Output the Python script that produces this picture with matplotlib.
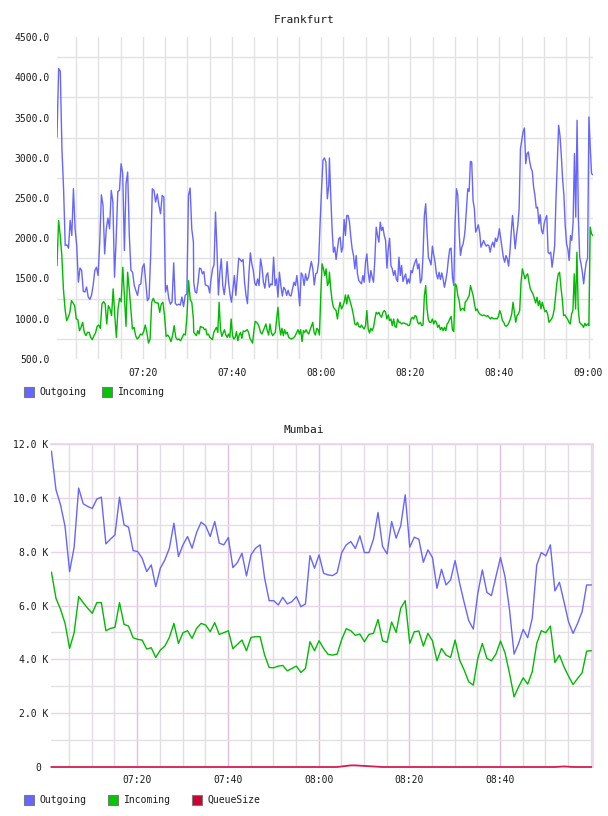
import numpy as np
import pandas as pd
import matplotlib
matplotlib.use("Agg")
import matplotlib.pyplot as plt
import matplotlib.dates as mdates
from matplotlib.patches import Rectangle

# ---------------- DATA ----------------
BASE = pd.Timestamp("2024-01-01 07:00:00")

# Frankfurt: four consecutive time segments (minutes after 07:00)
fra_seg_start_min = [0.72, 31.40, 61.85, 92.31]
fra_seg_end_min = [31.33, 61.71, 92.16, 120.97]

fra_out_1 = [3258, 4109, 4075, 3113, 2615, 1910, 1918, 1877, 2222, 2035,
             2615, 2118, 1910, 1454, 1630, 1600, 1340, 1333, 1395, 1270,
             1240, 1290, 1415, 1600, 1640, 1537, 1951, 2540, 2408, 1806,
             2118, 2250, 2118, 2595, 2450, 1516, 1993, 2582, 2595, 2926,
             2802, 1848, 2678, 2823, 2035, 1600, 1578, 1415, 1350, 1290,
             1420, 1433, 1640, 1682, 1454, 1225, 1257, 1790, 2615, 2595,
             2450, 2550, 2408, 2304, 2532, 2512, 1333, 1415, 1250, 1180,
             1210, 1694, 1190, 1170, 1180, 1170, 1270, 1150, 1290, 1311,
             2532, 2624, 2118, 1951]
fra_out_2 = [1454, 1333, 1320, 1454, 1630, 1620, 1558, 1587, 1420, 1412,
             1404, 1320, 1503, 1620, 1670, 2325, 1868, 1296, 1578, 1744,
             1412, 1300, 1454, 1711, 1454, 1300, 1205, 1370, 1537, 1290,
             1516, 1752, 1735, 1711, 1735, 1454, 1290, 1188, 1558, 1819,
             1682, 1600, 1446, 1412, 1495, 1412, 1744, 1640, 1454, 1379,
             1537, 1570, 1391, 1433, 1420, 1765, 1412, 1495, 1270, 1578,
             1412, 1283, 1391, 1362, 1290, 1354, 1290, 1283, 1370, 1454,
             1412, 1537, 1362, 1160, 1570, 1537, 1412, 1558, 1474, 1516,
             1620, 1711, 1620, 1420, 1558, 1570, 1703, 2180, 2595, 2968,
             2997, 2947, 2490, 2657]
fra_out_3 = [2997, 2532, 2118, 1827, 1889, 1736, 1869, 1993, 2014, 1827,
             1889, 2234, 2034, 2283, 2283, 2200, 2014, 1869, 1786, 1620,
             1786, 1557, 1474, 1454, 1433, 1537, 1454, 1703, 1806, 1578,
             1454, 1599, 1516, 1454, 1744, 2138, 2034, 1951, 2200, 2097,
             2138, 2034, 1972, 1628, 1869, 2001, 1661, 1620, 1537, 1599,
             1495, 1462, 1765, 1537, 1661, 1462, 1516, 1557, 1433, 1495,
             1445, 1599, 1570, 1653, 1703, 1744, 1620, 1682, 1445, 1487,
             1786, 2283, 2429, 2076, 1765, 1723, 1669, 1902, 1794, 1703,
             1557, 1495, 1578, 1487, 1570, 1495, 1391, 1474, 1578, 1744,
             1869, 1877, 1516, 1412, 2200, 2615, 2532, 2076, 1786, 1889,
             1931, 2034]
fra_out_4 = [2118, 2367, 2615, 2582, 2955, 2947, 2470, 2367, 2076, 2118,
             2167, 2076, 1889, 1931, 1972, 1931, 1902, 1918, 1910, 1827,
             1910, 1951, 1889, 2001, 1960, 2014, 2118, 2001, 1889, 1765,
             1703, 1786, 1744, 1653, 1827, 2076, 2283, 2076, 1869, 2034,
             2159, 2367, 3113, 3217, 3321, 3370, 2926, 3051, 3072, 2955,
             2873, 2831, 2636, 2532, 2375, 2387, 2180, 2292, 2097, 2055,
             2180, 2242, 2283, 1827, 1806, 1827, 1640, 1765, 1910, 2491,
             2947, 3404, 3279, 3038, 2740, 2532, 2159, 1931, 1869, 1723,
             2034, 1972, 2200, 3051, 2263, 3466, 2242, 1765, 1682, 1578,
             1433, 1586, 1703, 1752, 3507, 3134, 2802, 2790]

fra_in_1 = [1661, 2221, 2034, 1786, 1371, 1122, 976, 1018, 1080, 1225,
            1196, 1163, 997, 989, 852, 893, 956, 831, 790, 831,
            831, 769, 740, 790, 823, 906, 922, 881, 1184, 1213,
            1184, 935, 1163, 1122, 1039, 1371, 1039, 769, 1122, 1254,
            1213, 1640, 1288, 906, 1578, 1371, 1122, 873, 893, 790,
            748, 769, 810, 798, 840, 922, 831, 698, 748, 1205,
            1254, 1205, 1196, 1196, 1080, 1184, 1205, 1039, 781, 798,
            769, 715, 790, 914, 769, 740, 748, 727, 769, 810,
            798, 1039, 1474, 1238, 1205, 997]
fra_in_2 = [831, 810, 790, 852, 810, 906, 893, 893, 864, 873,
            798, 810, 769, 757, 740, 831, 864, 893, 831, 1205,
            873, 781, 823, 864, 798, 769, 810, 769, 997, 790,
            748, 769, 840, 727, 798, 831, 757, 848, 840, 852,
            864, 831, 757, 727, 698, 852, 968, 956, 935, 893,
            831, 810, 852, 893, 935, 852, 798, 935, 831, 790,
            810, 831, 997, 1142, 914, 798, 881, 790, 864, 810,
            831, 769, 757, 748, 757, 769, 790, 831, 864, 810,
            864, 715, 852, 831, 864, 831, 810, 864, 906, 956,
            831, 798, 881, 864, 798, 1288, 1682, 1620, 1537, 1620,
            1412, 1454]
fra_in_3 = [1578, 1371, 1225, 1142, 1122, 1101, 997, 1122, 1205, 1122,
            1155, 1205, 1296, 1184, 1296, 1246, 1184, 1122, 1039, 935,
            922, 956, 906, 893, 922, 893, 873, 914, 1101, 873,
            823, 881, 852, 893, 997, 1080, 1059, 1080, 1039, 1018,
            1080, 1101, 1080, 997, 1047, 976, 997, 914, 997, 906,
            893, 997, 956, 956, 935, 947, 947, 935, 935, 914,
            922, 997, 1018, 997, 1039, 1030, 956, 935, 956, 914,
            922, 1288, 1412, 1122, 989, 956, 956, 997, 935, 976,
            956, 893, 922, 864, 893, 852, 893, 852, 935, 956,
            997, 1030, 864, 840, 1433, 1412, 1288, 1225, 1101, 1122,
            1130, 1101]
fra_in_4 = [1205, 1225, 1254, 1288, 1412, 1350, 1288, 1184, 1101, 1122,
            1080, 1059, 1047, 1039, 1047, 1039, 1030, 1039, 1018, 997,
            1018, 1005, 997, 1005, 997, 1030, 1101, 1059, 976, 956,
            914, 906, 922, 956, 997, 1059, 1205, 1080, 956, 1039,
            1059, 1101, 1454, 1620, 1557, 1495, 1537, 1557, 1454, 1371,
            1337, 1308, 1254, 1196, 1267, 1163, 1225, 1122, 1205, 1142,
            1088, 1101, 1059, 956, 976, 997, 1039, 1122, 1288, 1454,
            1557, 1578, 1391, 1246, 1039, 1047, 1018, 997, 956, 935,
            1059, 1101, 1557, 1122, 1827, 1122, 956, 935, 922, 893,
            943, 914, 935, 914, 2138, 2055, 2034]

fra_out_segments = [fra_out_1, fra_out_2, fra_out_3, fra_out_4]
fra_in_segments = [fra_in_1, fra_in_2, fra_in_3, fra_in_4]

# Mumbai: one sample per minute
mum_start_min = 1.1
mum_step_min = 1.0
mum_out = [11727, 10300, 9742, 8935, 7260, 8166, 10362, 9779, 9680, 9605,
           9953, 10027, 8290, 8464, 8625, 10027, 8997, 8910, 8042, 8004,
           7756, 7260, 7508, 6701, 7384, 7694, 8129, 9059, 7818, 8253,
           8563, 8129, 8712, 9097, 8960, 8563, 9122, 8315, 8253, 8526,
           7409, 7595, 7942, 7099, 7880, 8129, 8253, 7012, 6180, 6180,
           6019, 6304, 6056, 6143, 6329, 5957, 6056,
           7855, 7384, 7880, 7198, 7136, 7111, 7223, 7967, 8253, 8377,
           8116, 8588, 7967, 7967, 8464, 9457, 8191, 7918, 9122, 8501,
           8960, 10114, 8166, 8538, 8464, 7607, 8067, 7781, 6639, 7347,
           6763, 6950, 7670, 6825, 6106, 5436, 5125, 6453, 7322, 6490,
           6366, 7074, 7781, 7074, 5833, 4195, 4592, 5113, 4803, 5522,
           7508, 7967, 7843, 8253, 6540, 6863, 6143, 5398, 4964, 5336,
           5771, 6763, 6763]
mum_in = [7235, 6267, 5857, 5336, 4406, 4989, 6329, 6106, 5895, 5709,
          6106, 6106, 5063, 5150, 5187, 6106, 5299, 5237, 4803, 4741,
          4716, 4381, 4431, 4071, 4344, 4492, 4815, 5336, 4592, 4989,
          5063, 4778, 5150, 5336, 5274, 5026, 5361, 4927, 4989, 5063,
          4393, 4555, 4716, 4319, 4815, 4840, 4840, 4157, 3698, 3686,
          3748, 3773, 3574, 3661, 3748, 3512, 3661,
          4654, 4319, 4691, 4406, 4182, 4157, 4195, 4741, 5137, 5063,
          4890, 4939, 4654, 4927, 4964, 5485, 4691, 4629, 5386, 5001,
          5895, 6180, 4592, 5026, 5051, 4492, 4964, 4691, 3946, 4406,
          4157, 4071, 4716, 3971, 3599, 3165, 3040, 4033, 4592, 4033,
          3946, 4195, 4679, 4244, 3475, 2606, 2978, 3313, 3078, 3537,
          4592, 5063, 4989, 5237, 3884, 4157, 3723, 3375, 3065, 3289,
          3500, 4306, 4319]
mum_queue = [0, 0, 0, 0, 0, 0, 0, 0, 0, 0,
             0, 0, 0, 0, 0, 0, 0, 0, 0, 0,
             0, 0, 0, 0, 0, 0, 0, 0, 0, 0,
             0, 0, 0, 0, 0, 0, 0, 0, 0, 0,
             0, 0, 0, 0, 0, 0, 0, 0, 0, 0,
             0, 0, 0, 0, 0, 0, 0, 0, 0, 0,
             0, 0, 0, 0, 20, 40, 60, 60, 50, 40,
             30, 20, 10, 0, 0, 0, 0, 0, 0, 0,
             0, 0, 0, 0, 0, 0, 0, 0, 0, 0,
             0, 0, 0, 0, 0, 0, 0, 0, 0, 0,
             0, 0, 0, 0, 0, 0, 0, 0, 0, 0,
             0, 0, 10, 20, 10, 0, 0, 0, 0, 0]

fra_yticks = [500, 1000, 1500, 2000, 2500, 3000, 3500, 4000, 4500]
fra_xticks = ["07:20", "07:40", "08:00", "08:20", "08:40", "09:00"]
mum_yticks = [0, 2000, 4000, 6000, 8000, 10000, 12000]
mum_ytick_labels = ["0 ", "2.0 K", "4.0 K", "6.0 K", "8.0 K", "10.0 K", "12.0 K"]
mum_xticks = ["07:20", "07:40", "08:00", "08:20", "08:40"]

# ---------------- STYLE ----------------
C_OUT = "#6666ff"
C_IN = "#00bb00"
C_Q = "#d81b50"
MONO = ["DejaVu Sans Mono"]
plt.rcParams["font.family"] = MONO
TXT = "#1a1a1a"


def to_time(minutes):
    return BASE + pd.to_timedelta(np.asarray(minutes, dtype=float), unit="m")


def clock(labels):
    return [pd.Timestamp(f"{BASE.date()} {s}") for s in labels]


def seg_series(segs):
    t_parts, v_parts = [], []
    for s0, s1, vals in zip(fra_seg_start_min, fra_seg_end_min, segs):
        t_parts.append(np.linspace(s0, s1, len(vals)))
        v_parts.append(np.asarray(vals, dtype=float))
    return to_time(np.concatenate(t_parts)), np.concatenate(v_parts)


W, H = 608, 816
fig = plt.figure(figsize=(W / 100, H / 100), dpi=100)
fig.patch.set_facecolor("white")

# ---------------- Frankfurt ----------------
ax1 = fig.add_axes([57 / W, 1 - 359 / H, 536 / W, 322 / H])
t_out, v_out = seg_series(fra_out_segments)
t_in, v_in = seg_series(fra_in_segments)
ax1.plot(t_out, v_out, color=C_OUT, lw=1.0, zorder=3)
ax1.plot(t_in, v_in, color=C_IN, lw=1.0, zorder=3)
ax1.set_ylim(500, 4500)
ax1.set_xlim(to_time([0.72])[0], to_time([121.0])[0])
ax1.set_yticks(fra_yticks)
ax1.set_yticklabels([f"{v:.1f}" for v in fra_yticks])
ax1.set_yticks(np.arange(750, 4500, 500), minor=True)
ax1.set_xticks(clock(fra_xticks))
ax1.set_xticklabels(fra_xticks)
ax1.xaxis.set_minor_locator(mdates.MinuteLocator(byminute=range(0, 60, 5)))
ax1.grid(True, axis="x", which="both", color="#e2e2e2", lw=1.0)
ax1.grid(True, axis="y", which="minor", color="#e2e2e2", lw=1.0)
ax1.grid(False, axis="y", which="major")
ax1.set_axisbelow(True)
for s in ax1.spines.values():
    s.set_visible(False)
ax1.tick_params(axis="both", which="both", length=0, labelsize=7, colors=TXT)
ax1.tick_params(axis="y", pad=5)
ax1.tick_params(axis="x", pad=6.5)

# ---------------- Mumbai ----------------
ax2 = fig.add_axes([51 / W, 1 - 767 / H, 542 / W, 323 / H])
t_m = to_time(mum_start_min + mum_step_min * np.arange(len(mum_out)))
ax2.plot(t_m, mum_out, color=C_OUT, lw=1.0, zorder=3)
ax2.plot(t_m, mum_in, color=C_IN, lw=1.0, zorder=3)
ax2.plot(t_m, mum_queue, color=C_Q, lw=1.3, zorder=4, clip_on=False)
ax2.set_ylim(0, 12000)
ax2.set_xlim(to_time([1.0])[0], to_time([120.5])[0])
ax2.set_yticks(mum_yticks)
ax2.set_yticklabels(mum_ytick_labels)
ax2.set_yticks(np.arange(1000, 12000, 2000), minor=True)
ax2.set_xticks(clock(mum_xticks))
ax2.set_xticklabels(mum_xticks)
ax2.xaxis.set_minor_locator(mdates.MinuteLocator(byminute=range(0, 60, 5)))
ax2.grid(True, axis="x", which="major", color="#dcc0dc", lw=1.0)
ax2.grid(True, axis="x", which="minor", color="#e2dde2", lw=1.0)
ax2.grid(True, axis="y", which="major", color="#ead3ea", lw=1.0)
ax2.grid(True, axis="y", which="minor", color="#e2e2e2", lw=1.0)
ax2.set_axisbelow(True)
for k, s in ax2.spines.items():
    if k in ("top", "right"):
        s.set_color("#ead3ea")
        s.set_linewidth(1.2)
    else:
        s.set_visible(False)
ax2.tick_params(axis="both", which="both", length=0, labelsize=7, colors=TXT)
ax2.tick_params(axis="y", pad=2)
ax2.tick_params(axis="x", pad=6)

# ---------------- Titles ----------------
fig.text(0.5, 1 - 20 / H, "Frankfurt", ha="center", va="center", fontsize=8, color=TXT)
fig.text(0.5, 1 - 430 / H, "Mumbai", ha="center", va="center", fontsize=8, color=TXT)


# ---------------- Legends ----------------
def legend_item(x_px, y_px, color, label, text_x_px):
    fig.add_artist(Rectangle((x_px / W, 1 - (y_px + 5) / H), 10 / W, 10 / H,
                             transform=fig.transFigure, facecolor=color,
                             edgecolor="#7a7a7a", lw=0.8))
    fig.text(text_x_px / W, 1 - y_px / H, label, ha="left", va="center",
             fontsize=7, color=TXT)


legend_item(24, 392, C_OUT, "Outgoing", 39)
legend_item(102, 392, "#00c800", "Incoming", 118)
legend_item(24, 800, C_OUT, "Outgoing", 39)
legend_item(108, 800, "#00c800", "Incoming", 124)
legend_item(192, 800, "#cc0033", "QueueSize", 207)

fig.savefig("out.png", dpi=100, facecolor="white")
